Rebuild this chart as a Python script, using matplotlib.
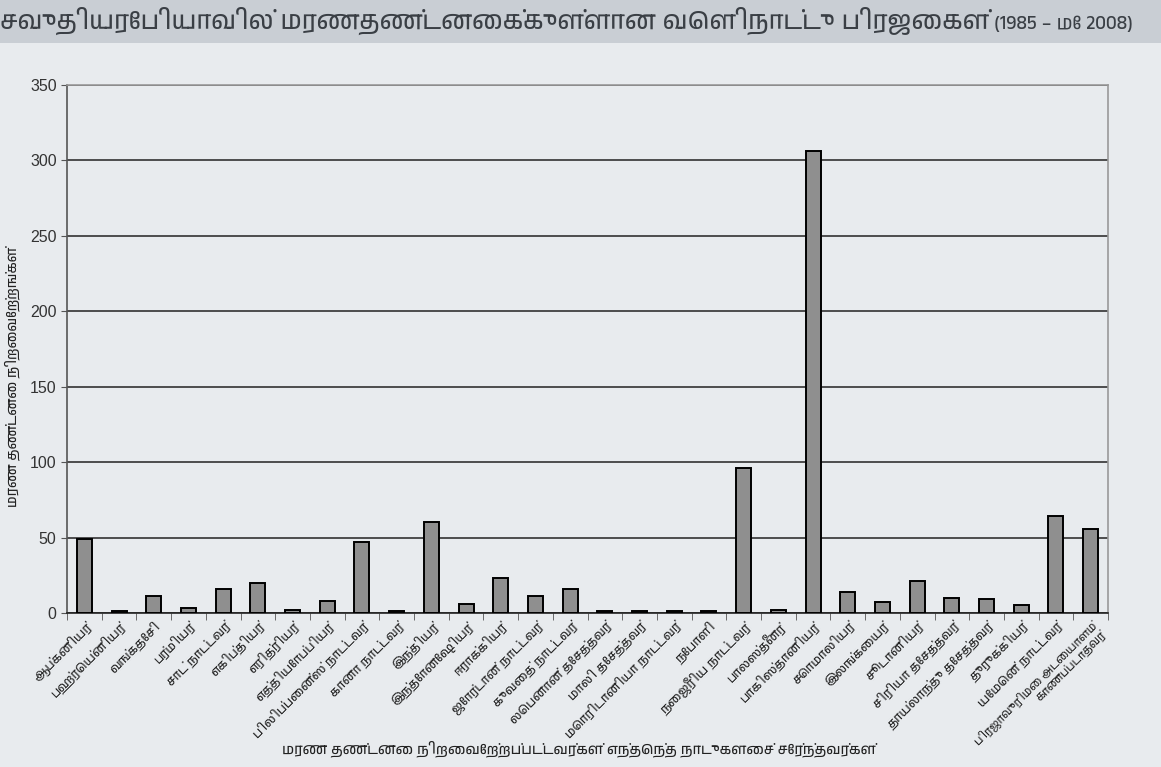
import matplotlib
matplotlib.use("Agg")
import matplotlib.pyplot as plt
from matplotlib import font_manager
from matplotlib.ft2font import FT2Font
from matplotlib.patches import Rectangle
import numpy as np

# data
countries = [
    "ஆப்கனியர்", "பஹ்ரெய்னியர்", "வங்கதேசி", "பர்மியர்", "சாட் நாட்டவர்",
    "எகிப்தியர்", "எரித்ரியர்", "எத்தியோப்பியர்", "பிலிப்பைன்ஸ் நாட்டவர்", "கானா நாட்டவர்",
    "இந்தியர்", "இந்தோனேஷியர்", "ஈராக்கியர்", "ஜோர்டான் நாட்டவர்", "குவைத் நாட்டவர்",
    "லெபனான் தேசத்தவர்", "மாலி தேசத்தவர்", "மொரிடானியா நாட்டவர்", "நேபாளி", "நைஜீரிய நாட்டவர்",
    "பாலஸ்தீனர்", "பாகிஸ்தானியர்", "சொமாலியர்", "இலங்கையர்", "சூடானியர்",
    "சிரியா தேசத்தவர்", "தாய்லாந்து தேசத்தவர்", "துருக்கியர்", "யேமென் நாட்டவர்",
    "பிரஜாவுரிமை அடையாளம்\nகாணப்படாதவர்",
]
executions = [49, 1, 11, 3, 16, 20, 2, 8, 47, 1,
              60, 6, 23, 11, 16, 1, 1, 1, 1, 96,
              2, 306, 14, 7, 21, 10, 9, 5, 64, 56]
y_ticks = [0, 50, 100, 150, 200, 250, 300, 350]

title = "சவுதியரேபியாவில் மரணதண்டனைக்குள்ளான வெளிநாட்டு பிரஜைகள்"
subtitle = " (1985 – மே 2008)"
xlabel = "மரண தண்டனை நிறைவேற்றப்பட்டவர்கள் எந்தெந்த நாடுகளைச் சேர்ந்தவர்கள்"
ylabel = "மரண தண்டனை நிறைவேற்றங்கள்"


# find any installed font with Tamil glyphs
def find_tamil_font():
    fonts = sorted(font_manager.fontManager.ttflist,
                   key=lambda f: "Tamil" not in f.name)
    for f in fonts:
        try:
            if 0x0B95 in FT2Font(f.fname).get_charmap():
                return f.name
        except Exception:
            pass
    return None


tamil = find_tamil_font()
families = [tamil, "DejaVu Sans"] if tamil else ["DejaVu Sans"]
plt.rcParams["font.family"] = families

bg = "#e8ebee"
fig = plt.figure(figsize=(11.61, 7.67), dpi=100, facecolor=bg)
fig.patches.append(Rectangle((0, 1 - 43 / 767), 1, 43 / 767, transform=fig.transFigure,
                             facecolor="#c9ced4", edgecolor="none", zorder=0))

ax = fig.add_axes([67 / 1161, 154 / 767, 1041 / 1161, 528 / 767])
ax.set_facecolor(bg)

x = np.arange(len(countries))
ax.bar(x, executions, width=0.43, color="#8f8f8f", edgecolor="black", linewidth=1.4, zorder=3)

ax.set_ylim(0, 350)
ax.set_xlim(-0.5, len(countries) - 0.5)
ax.set_yticks(y_ticks)
ax.set_yticklabels([str(v) for v in y_ticks], family=["Liberation Sans", "DejaVu Sans"],
                   fontsize=11.5, color="#333333")
ax.yaxis.grid(True, color="#222222", linewidth=1.1, zorder=1)
ax.tick_params(axis="y", length=4, color="#555555")

ax.set_xticks(x)
labels = ax.set_xticklabels(countries, rotation=45, ha="right", rotation_mode="anchor",
                            fontsize=9, color="#222222", linespacing=1.0)
labels[-1].set_fontsize(8.2)
ax.tick_params(axis="x", which="major", length=0, pad=5)
ax.set_xticks(np.arange(len(countries) + 1) - 0.5, minor=True)
ax.tick_params(axis="x", which="minor", length=5, color="#555555")

for side in ["top", "right"]:
    ax.spines[side].set_color("#999999")
ax.spines["left"].set_color("#555555")
ax.spines["bottom"].set_color("#222222")
for s in ax.spines.values():
    s.set_linewidth(1.2)

fig.text(12 / 1161, 1 - 377 / 767, ylabel, rotation=90, ha="center", va="center",
         fontsize=10, color="#222222")
fig.text(579 / 1161, 1 - 749 / 767, xlabel, ha="center", va="center",
         fontsize=10.4, color="#222222")

t = fig.text(0.0, 1 - 21 / 767, title, ha="left", va="center", fontsize=18.2, color="#3a3f45")
fig.canvas.draw()
bb = t.get_window_extent()
fig.text(bb.x1 / fig.bbox.width, 1 - 24 / 767, subtitle, ha="left", va="center",
         fontsize=13.5, color="#3a3f45")

fig.savefig("out.png", dpi=100, facecolor=bg)
